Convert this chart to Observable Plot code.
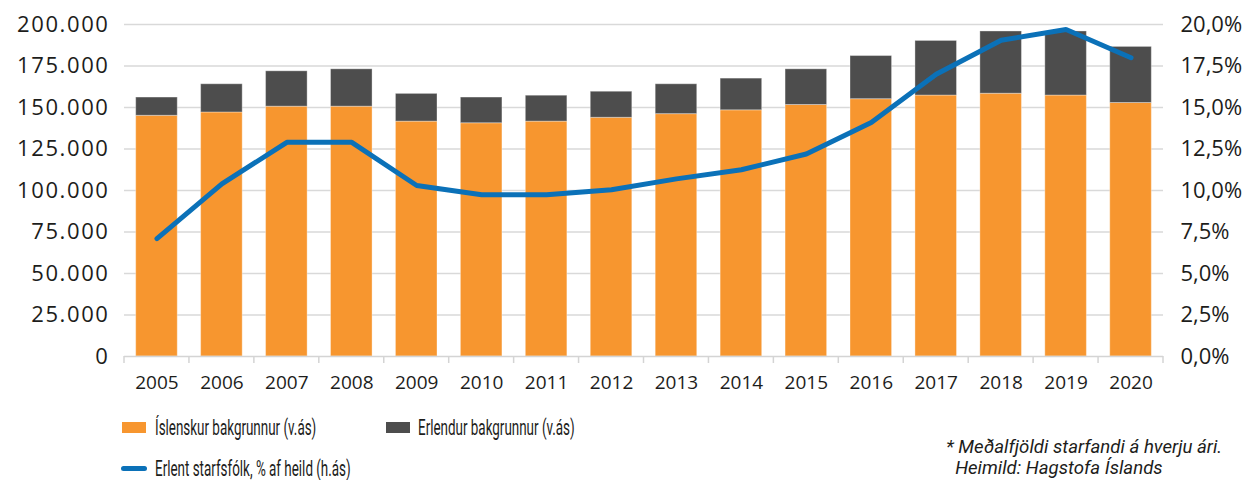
<!DOCTYPE html>
<html><head><meta charset="utf-8">
<script src="https://cdn.jsdelivr.net/npm/d3@7"></script>
<script src="https://cdn.jsdelivr.net/npm/@observablehq/plot@0.6"></script>
<style>
body{margin:0;background:#fff;}
#wrap{position:relative;width:1243px;height:480px;overflow:hidden;background:#fff}
#chart{position:absolute;left:0;top:0}
.sw{position:absolute}
.lt{position:absolute;font-family:Roboto,sans-serif;font-size:22px;color:#1d1d1b;white-space:nowrap;transform:scaleX(0.61);transform-origin:left center;line-height:26px}
.cap{position:absolute;font-family:Roboto,sans-serif;font-style:italic;font-size:19px;color:#1d1d1b;white-space:nowrap;transform:scaleX(0.98);transform-origin:left center;line-height:21px}
</style>
</head><body>
<div id="wrap">
  <div id="chart"></div>
  <div class="sw" style="left:122px;top:422px;width:24px;height:11px;background:#f7962f"></div>
  <div class="lt" style="left:155px;top:415px">Íslenskur bakgrunnur (v.ás)</div>
  <div class="sw" style="left:386px;top:422px;width:24px;height:11px;background:#4d4d4d"></div>
  <div class="lt" style="left:418px;top:415px">Erlendur bakgrunnur (v.ás)</div>
  <div class="sw" style="left:121px;top:466px;width:26px;height:5px;border-radius:3px;background:#0b71b8"></div>
  <div class="lt" style="left:155px;top:456px">Erlent starfsfólk, % af heild (h.ás)</div>
  <div class="cap" style="left:946px;top:436px">* Meðalfjöldi starfandi á hverju ári.<br>&nbsp;&nbsp;Heimild: Hagstofa Íslands</div>
</div>
<script>
const years = ["2005","2006","2007","2008","2009","2010","2011","2012","2013","2014","2015","2016","2017","2018","2019","2020"];
const islenskur = [145000,147000,150500,150500,141500,140500,141500,143800,146000,148300,151500,155000,157200,158300,157200,152700];
const erlendur = [11000,17000,21300,22500,16700,15500,15600,15700,18000,19100,21500,26000,32900,37500,38600,33800];
const erlentPct = [7.1,10.4,12.9,12.9,10.3,9.75,9.75,10.05,10.7,11.25,12.2,14.1,17.0,19.05,19.7,18.0];
const seriesNames = ["Íslenskur bakgrunnur (v.ás)","Erlendur bakgrunnur (v.ás)"];
const yTicks = [0,25000,50000,75000,100000,125000,150000,175000,200000];

const bars = [
  ...years.map((y,i)=>({year:y, serie:seriesNames[0], value:islenskur[i]})),
  ...years.map((y,i)=>({year:y, serie:seriesNames[1], value:erlendur[i]}))
];
const line = years.map((y,i)=>({year:y, pct:erlentPct[i]}));

const PAD = 0.36;
function bandTicks(index, scales, values, dimensions) {
  const x = scales.x, y = scales.y;
  const step = x(years[1]) - x(years[0]);
  const half = step*PAD/2;
  const y0 = y(0);
  const g = d3.create("svg:g").attr("stroke","#d4d4d4").attr("stroke-width",1.5);
  const xs = years.map(d=>x(d)-half);
  xs.push(x(years[years.length-1]) + step*(1-PAD) + half);
  for (const xx of xs) g.append("line").attr("x1",xx).attr("x2",xx).attr("y1",y0).attr("y2",y0+7);
  return g.node();
}

const fmtL = d => d3.format(",")(d).replace(/,/g,".");
const fmtR = d => (d/10000).toFixed(1).replace(".",",")+"%";

const plot = Plot.plot({
  width:1243, height:400,
  marginLeft:124, marginRight:80, marginTop:24, marginBottom:44,
  style:{fontFamily:"'Open Sans', sans-serif", fontSize:"20px", color:"#1d1d1b", background:"transparent", overflow:"visible"},
  x:{type:"band", domain:years, paddingInner:PAD, paddingOuter:PAD/2, round:false, label:null},
  y:{domain:[0,200000], label:null},
  color:{domain:seriesNames, range:["#f7962f","#4d4d4d"]},
  marks:[
    Plot.gridY(yTicks.filter(d=>d>0), {stroke:"#d9d9d9", strokeOpacity:1, strokeWidth:1.5}),
    Plot.barY(bars, {x:"year", y:"value", fill:"serie", stroke:"#ffffff", strokeOpacity:0.35, strokeWidth:1}),
    Plot.ruleY([0], {stroke:"#d4d4d4", strokeWidth:1.5}),
    bandTicks,
    Plot.line(line, {x:"year", y:d=>d.pct*10000, stroke:"#0b71b8", strokeWidth:5, strokeLinecap:"round", strokeLinejoin:"miter"}),
    Plot.axisY(yTicks, {anchor:"left", tickSize:0, tickPadding:15, tickFormat:fmtL, fontSize:22, label:null}),
    Plot.axisY(yTicks, {anchor:"right", tickSize:0, tickPadding:17, tickFormat:fmtR, fontSize:22, label:null}),
    Plot.axisX({tickSize:0, tickPadding:19, fontSize:19, label:null})
  ]
});
plot.querySelectorAll("g[aria-label='y-axis tick label']").forEach((g,i)=>{ if(i===0) g.setAttribute("letter-spacing","1.6px"); });
document.getElementById("chart").appendChild(plot);
</script>
</body></html>
